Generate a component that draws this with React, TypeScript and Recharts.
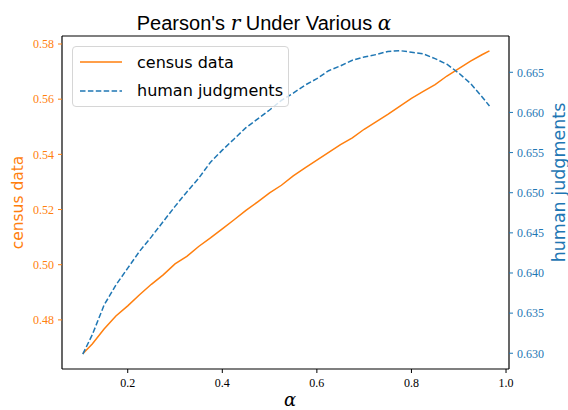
import React from "react";
import { LineChart, Line, XAxis, YAxis, Legend, Label, ReferenceLine } from "recharts";

// alpha values
const alphas = [
  0.105, 0.125, 0.15, 0.175, 0.2, 0.225, 0.25, 0.275, 0.3, 0.325, 0.35, 0.375,
  0.4, 0.425, 0.45, 0.475, 0.5, 0.525, 0.55, 0.575, 0.6, 0.625, 0.65, 0.675,
  0.7, 0.725, 0.75, 0.775, 0.8, 0.825, 0.85, 0.875, 0.9, 0.925, 0.95, 0.965,
];

const censusData = [
  0.4677, 0.4713, 0.4767, 0.4814, 0.4851, 0.4891, 0.4929, 0.4963, 0.5003, 0.503,
  0.5066, 0.5097, 0.513, 0.5163, 0.5197, 0.5228, 0.526, 0.5288, 0.5322, 0.5351,
  0.5379, 0.5407, 0.5435, 0.546, 0.5491, 0.5518, 0.5545, 0.5574, 0.5603, 0.5628,
  0.5653, 0.5684, 0.5711, 0.5738, 0.5762, 0.5775,
];

const humanJudgments = [
  0.6299, 0.6323, 0.636, 0.6385, 0.6406, 0.6427, 0.6445, 0.6464, 0.6483, 0.6501,
  0.6518, 0.6538, 0.6553, 0.6567, 0.6581, 0.6592, 0.6603, 0.6615, 0.6624, 0.6634,
  0.6642, 0.6652, 0.6658, 0.6665, 0.6669, 0.6672, 0.6676, 0.6677, 0.6675, 0.6673,
  0.6667, 0.666, 0.6649, 0.6636, 0.6619, 0.6608,
];

const xTicks = [0.2, 0.4, 0.6, 0.8, 1.0];
const censusTicks = [0.48, 0.5, 0.52, 0.54, 0.56, 0.58];
const humanTicks = [0.63, 0.635, 0.64, 0.645, 0.65, 0.655, 0.66, 0.665];

const ORANGE = "#ff7f0e";
const BLUE = "#1f77b4";
const CENSUS_DOMAIN = [0.4622, 0.5829];

const rows = alphas.map((a, i) => ({
  alpha: a,
  census: censusData[i],
  human: humanJudgments[i],
}));

const tickFont = { fontFamily: "'Liberation Serif', serif", fontSize: 12 };

function LegendBox() {
  const items = [
    { label: "census data", color: ORANGE, dash: undefined },
    { label: "human judgments", color: BLUE, dash: "5.5 2.4" },
  ];
  return (
    <div
      style={{
        position: "absolute",
        left: 72,
        top: 46,
        width: 215,
        height: 59,
        border: "1px solid #d6d6d6",
        borderRadius: 4,
        background: "rgba(255,255,255,0.8)",
        fontFamily: "'DejaVu Sans', sans-serif",
        fontSize: 16,
        color: "#000",
      }}
    >
      {items.map((it, i) => (
        <div
          key={i}
          style={{ position: "absolute", left: 0, top: 4 + i * 28.5, height: 22, display: "flex", alignItems: "center" }}
        >
          <svg width={60} height={22} style={{ display: "block" }}>
            <line x1={7} x2={49} y1={11} y2={11} stroke={it.color} strokeWidth={1.5} strokeDasharray={it.dash} />
          </svg>
          <span style={{ marginLeft: 4, whiteSpace: "nowrap" }}>{it.label}</span>
        </div>
      ))}
    </div>
  );
}

export default function App() {
  return (
    <div style={{ position: "absolute", left: 0, top: 0, background: "#fff" }}>
      <LineChart width={568} height={410} data={rows} margin={{ top: 36, right: 9, bottom: 11, left: 12 }}>
        <XAxis
          dataKey="alpha"
          type="number"
          domain={[0.061, 1.0063]}
          ticks={xTicks}
          tickFormatter={(v: number) => v.toFixed(1)}
          height={30}
          tickSize={4}
          tickMargin={5}
          axisLine={{ stroke: "#000", strokeWidth: 1.2 }}
          tickLine={{ stroke: "#000" }}
          tick={{ ...tickFont, fill: "#000" }}
          allowDataOverflow
        >
          <Label
            content={() => (
              <text x={290} y={406} textAnchor="middle" fontFamily="'DejaVu Serif', serif" fontStyle="italic" fontSize={18} fill="#000">
                α
              </text>
            )}
          />
        </XAxis>
        <YAxis
          yAxisId="left"
          domain={CENSUS_DOMAIN}
          ticks={censusTicks}
          tickFormatter={(v: number) => v.toFixed(2)}
          width={50}
          tickSize={4}
          tickMargin={4}
          axisLine={{ stroke: "#000", strokeWidth: 1.2 }}
          tickLine={{ stroke: ORANGE }}
          tick={{ ...tickFont, fill: ORANGE }}
          allowDataOverflow
        >
          <Label
            content={() => (
              <text
                x={23}
                y={202.5}
                transform="rotate(-90 23 202.5)"
                textAnchor="middle"
                fontFamily="'DejaVu Sans', sans-serif"
                fontSize={15.5}
                fill={ORANGE}
              >
                census data
              </text>
            )}
          />
        </YAxis>
        <YAxis
          yAxisId="right"
          orientation="right"
          domain={[0.62804, 0.66952]}
          ticks={humanTicks}
          tickFormatter={(v: number) => v.toFixed(3)}
          width={50}
          tickSize={4}
          tickMargin={4}
          axisLine={{ stroke: "#000", strokeWidth: 1.2 }}
          tickLine={{ stroke: BLUE }}
          tick={{ ...tickFont, fill: BLUE }}
          allowDataOverflow
        >
          <Label
            content={() => (
              <text
                x={565}
                y={182.5}
                transform="rotate(-90 565 182.5)"
                textAnchor="middle"
                fontFamily="'DejaVu Sans', sans-serif"
                fontSize={17.5}
                fill={BLUE}
              >
                human judgments
              </text>
            )}
          />
        </YAxis>
        {/* top edge of the frame + title */}
        <ReferenceLine yAxisId="left" y={CENSUS_DOMAIN[1]} stroke="#000" strokeWidth={1.2}>
          <Label
            content={() => (
              <text x={264} y={29.5} textAnchor="middle" fontFamily="'Liberation Sans', sans-serif" fontSize={20} fill="#000">
                Pearson's{" "}
                <tspan fontFamily="'DejaVu Serif', serif" fontStyle="italic">r</tspan>
                {" "}Under Various{" "}
                <tspan fontFamily="'DejaVu Serif', serif" fontStyle="italic">α</tspan>
              </text>
            )}
          />
        </ReferenceLine>
        <Line
          yAxisId="left"
          dataKey="census"
          name="census data"
          stroke={ORANGE}
          strokeWidth={1.5}
          dot={false}
          type="linear"
          isAnimationActive={false}
        />
        <Line
          yAxisId="right"
          dataKey="human"
          name="human judgments"
          stroke={BLUE}
          strokeWidth={1.5}
          strokeDasharray="5.5 2.4"
          dot={false}
          type="linear"
          isAnimationActive={false}
        />
        <Legend
          layout="horizontal"
          verticalAlign="middle"
          align="center"
          content={() => <LegendBox />}
          wrapperStyle={{ left: 0, top: 0, width: 0, height: 0 }}
        />
      </LineChart>
    </div>
  );
}
